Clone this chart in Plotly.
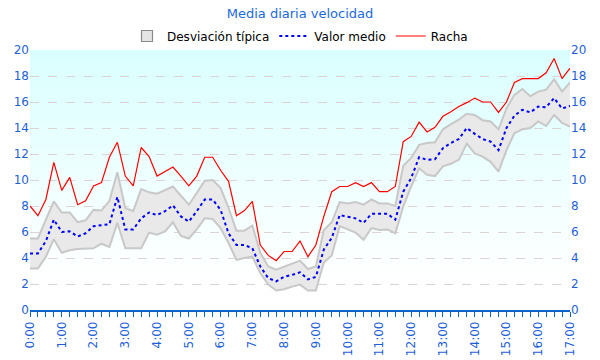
import base64
import struct
import zlib
import plotly.graph_objects as go

# 15-minute steps from 0:00 to 17:00
horas = [i * 0.25 for i in range(69)]
tick_vals = list(range(0, 18))
tick_text = [f"{h}:00" for h in tick_vals]

racha = [8.0, 7.25, 8.5, 11.35, 9.2, 10.2, 8.1, 8.4, 9.55, 9.8,
         11.75, 12.9, 10.3, 9.55, 12.5, 11.8, 10.3, 10.65, 11.0, 10.3,
         9.55, 10.3, 11.75, 11.75, 10.75, 9.9, 7.25, 7.65, 8.35, 5.0,
         4.2, 3.8, 4.5, 4.5, 5.3, 4.1, 5.0, 7.2, 9.1, 9.5,
         9.5, 9.8, 9.5, 9.8, 9.1, 9.1, 9.5, 12.95, 13.35, 14.45,
         13.7, 14.05, 14.9, 15.25, 15.65, 15.95, 16.3, 16.0, 16.0, 15.2,
         16.0, 17.5, 17.8, 17.8, 17.8, 18.25, 19.35, 17.8, 18.6]

media = [4.35, 4.35, 5.3, 6.95, 6.0, 6.05, 5.65, 5.9, 6.45, 6.55,
         6.6, 8.7, 6.2, 6.2, 7.05, 7.5, 7.3, 7.6, 8.05, 7.2,
         6.8, 7.6, 8.5, 8.5, 7.7, 5.9, 5.0, 5.0, 4.75, 3.35,
         2.45, 2.2, 2.55, 2.7, 2.9, 2.35, 2.55, 4.65, 5.55, 7.3,
         7.2, 7.05, 6.7, 7.4, 7.4, 7.4, 6.95, 9.1, 10.15, 11.75,
         11.55, 11.6, 12.45, 12.85, 13.15, 14.0, 13.55, 13.15, 12.95, 12.3,
         14.0, 14.95, 15.4, 15.2, 15.65, 15.6, 16.3, 15.5, 15.7]

desv_sup = [5.5, 5.5, 6.95, 8.35, 7.5, 7.5, 6.75, 6.9, 7.7, 7.65,
            8.4, 10.6, 7.85, 7.6, 9.3, 9.05, 8.95, 9.25, 9.5, 8.8,
            8.1, 9.0, 9.95, 10.0, 9.4, 7.85, 6.1, 6.1, 6.5, 4.4,
            3.35, 3.1, 3.35, 3.55, 3.8, 3.15, 3.35, 6.15, 6.75, 8.3,
            8.2, 8.3, 8.1, 8.5, 8.2, 8.2, 8.0, 11.1, 11.7, 12.7,
            12.85, 12.9, 13.9, 14.3, 14.65, 15.1, 15.0, 14.6, 14.5, 13.9,
            15.5, 16.55, 17.0, 16.45, 16.8, 16.95, 17.75, 16.8, 17.5]

desv_inf = [3.2, 3.2, 4.1, 5.45, 4.4, 4.6, 4.7, 4.7, 4.75, 5.1,
            4.85, 6.7, 4.75, 4.75, 4.75, 5.95, 5.8, 6.05, 6.75, 5.7,
            5.5, 6.2, 7.05, 7.0, 6.3, 5.15, 3.85, 4.0, 4.1, 2.85,
            1.95, 1.5, 1.6, 1.8, 1.95, 1.5, 1.5, 3.65, 4.2, 6.45,
            6.2, 5.95, 5.4, 6.3, 6.15, 6.2, 5.9, 7.95, 9.5, 10.9,
            10.4, 10.3, 11.05, 11.25, 11.55, 12.8, 12.05, 11.8, 11.4, 10.65,
            12.3, 13.6, 13.9, 14.0, 14.5, 14.15, 15.0, 14.4, 14.1]

Y_MAX = 20
BLUE_TXT = "#1f5fd6"
FONT = "DejaVu Sans"


def gradient_png(top=(218, 255, 255), bottom=(255, 255, 255), h=128):
    """Tiny 1-px-wide vertical gradient PNG as data URI (plot background)."""
    rows = b""
    for i in range(h):
        t = min(1.0, i / (h * 0.88))
        c = [round(top[k] + (bottom[k] - top[k]) * t) for k in range(3)]
        rows += b"\x00" + bytes(c)
    def chunk(tag, data):
        return (struct.pack(">I", len(data)) + tag + data +
                struct.pack(">I", zlib.crc32(tag + data) & 0xffffffff))
    png = (b"\x89PNG\r\n\x1a\n" +
           chunk(b"IHDR", struct.pack(">IIBBBBB", 1, h, 8, 2, 0, 0, 0)) +
           chunk(b"IDAT", zlib.compress(rows)) + chunk(b"IEND", b""))
    return "data:image/png;base64," + base64.b64encode(png).decode()


fig = go.Figure()

fig.add_trace(go.Scatter(
    x=horas, y=desv_inf, mode="lines",
    line=dict(color="#c8c8c8", width=2),
    showlegend=False, hoverinfo="skip"))
fig.add_trace(go.Scatter(
    x=horas, y=desv_sup, mode="lines", fill="tonexty",
    fillcolor="#e9e9e9", line=dict(color="#c8c8c8", width=2),
    showlegend=False, name="Desviación típica"))
# legend entry for the band (square swatch)
fig.add_trace(go.Scatter(
    x=[None], y=[None], mode="markers", name="Desviación típica",
    marker=dict(symbol="square", size=11, color="#e4e4e4",
                line=dict(color="#8a8a8a", width=1.2))))
fig.add_trace(go.Scatter(
    x=horas, y=media, mode="lines",
    line=dict(color="#0000ff", width=2, dash="dot"),
    name="Valor medio"))
fig.add_trace(go.Scatter(
    x=horas, y=racha, mode="lines",
    line=dict(color="#ff0000", width=1.2),
    name="Racha"))
# invisible trace to activate the right-hand axis
fig.add_trace(go.Scatter(
    x=horas, y=media, yaxis="y2", mode="lines", opacity=0,
    showlegend=False, hoverinfo="skip"))

yaxis_common = dict(
    range=[0, Y_MAX], dtick=2, tick0=0,
    tickfont=dict(color=BLUE_TXT, size=12, family=FONT),
    showline=False, zeroline=False, ticks="",
)

fig.update_layout(
    width=600, height=360,
    margin=dict(l=30, r=30, t=50, b=50, autoexpand=False),
    paper_bgcolor="white", plot_bgcolor="rgba(0,0,0,0)",
    font=dict(family=FONT, size=12, color="black"),
    images=[dict(source=gradient_png(), xref="paper", yref="paper",
                 x=0, y=1, sizex=1, sizey=1, sizing="stretch",
                 xanchor="left", yanchor="top", layer="below")],
    title=dict(text="Media diaria velocidad", x=0.5, xanchor="center",
               y=1 - 13 / 360, yref="container", yanchor="middle",
               font=dict(color="#1a6ae0", size=13, family=FONT)),
    legend=dict(orientation="h", x=0.5, xanchor="center",
                y=1 - 36 / 360, yanchor="middle", yref="container",
                font=dict(size=12, family=FONT), traceorder="normal",
                bgcolor="rgba(0,0,0,0)", itemwidth=30, tracegroupgap=0),
    xaxis=dict(range=[horas[0], horas[-1]], tickvals=tick_vals, ticktext=tick_text,
               tickangle=-90, tickfont=dict(color=BLUE_TXT, size=12, family=FONT),
               showgrid=False, zeroline=False,
               showline=True, linecolor="#0a64c8", linewidth=1.5,
               ticks="outside", ticklen=5, tickcolor="#0a64c8",
               minor=dict(dtick=0.25, tick0=0, ticks="outside", ticklen=5,
                          tickcolor="#0a64c8", showgrid=False)),
    yaxis=dict(**yaxis_common, showgrid=True, gridcolor="#dcd4d4",
               griddash="dash", gridwidth=1),
    yaxis2=dict(**yaxis_common, overlaying="y", side="right", showgrid=False),
)

fig.write_html("out.html",
               config={"displayModeBar": False},
               post_script="document.body.style.margin='0px';")
